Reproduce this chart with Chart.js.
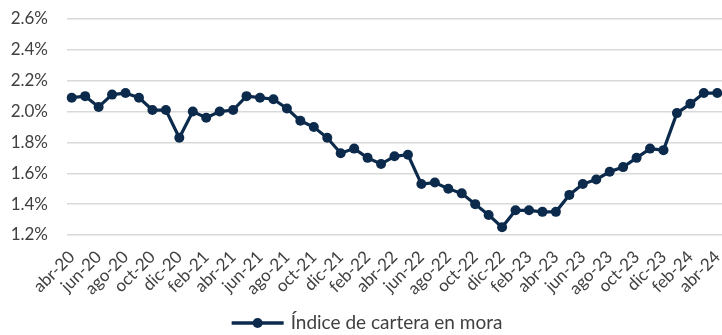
<!DOCTYPE html>
<html>
<head>
<meta charset="utf-8">
<script src="https://cdn.jsdelivr.net/npm/chart.js@4/dist/chart.umd.min.js"></script>
<style>
  html, body { margin: 0; padding: 0; background: #ffffff; }
  #wrap { width: 722px; height: 335px; }
</style>
</head>
<body>
<div id="wrap"><canvas id="c"></canvas></div>
<script>
// Meses (abril 2020 – abril 2024)
const months = [
  'abr-20','may-20','jun-20','jul-20','ago-20','sep-20','oct-20','nov-20','dic-20',
  'ene-21','feb-21','mar-21','abr-21','may-21','jun-21','jul-21','ago-21','sep-21','oct-21','nov-21','dic-21',
  'ene-22','feb-22','mar-22','abr-22','may-22','jun-22','jul-22','ago-22','sep-22','oct-22','nov-22','dic-22',
  'ene-23','feb-23','mar-23','abr-23','may-23','jun-23','jul-23','ago-23','sep-23','oct-23','nov-23','dic-23',
  'ene-24','feb-24','mar-24','abr-24'
];

// Índice de cartera en mora (%)
const imor = [
  2.09, 2.10, 2.03, 2.11, 2.12, 2.09, 2.01, 2.01, 1.83,
  2.00, 1.96, 2.00, 2.01, 2.10, 2.09, 2.08, 2.02, 1.94, 1.90, 1.83, 1.73,
  1.76, 1.70, 1.66, 1.71, 1.72, 1.53, 1.54, 1.50, 1.47, 1.40, 1.33, 1.25,
  1.36, 1.36, 1.35, 1.35, 1.46, 1.53, 1.56, 1.61, 1.64, 1.70, 1.76, 1.75,
  1.99, 2.05, 2.12, 2.12
];

// Escala del eje vertical
const yMin = 1.2;
const yMax = 2.6;
const yStep = 0.2;

const navy = '#0c2a4b';
const textGray = '#404040';
const seriesName = 'Índice de cartera en mora';

// Extiende el área de trazado hasta el borde derecho del lienzo
const fullWidth = {
  id: 'fullWidth',
  afterLayout(chart) {
    const x = chart.scales.x;
    chart.chartArea.right = chart.width;
    x.left = chart.chartArea.left - 2;
    x.right = chart.width + 2;
    x.width = x.right - x.left;
    x.configure();
  }
};

// Leyenda inferior: línea con marcador circular y nombre de la serie
const bottomLegend = {
  id: 'bottomLegend',
  afterDraw(chart) {
    const ctx = chart.ctx;
    const ds = chart.data.datasets[0];
    ctx.save();
    ctx.font = '19px Lato';
    const tw = ctx.measureText(ds.label).width;
    const lineW = 52, gap = 7;
    const total = lineW + gap + tw;
    const x0 = chart.width / 2 + 6 - total / 2;
    const y = chart.height - 12;
    ctx.strokeStyle = navy;
    ctx.lineWidth = 3.5;
    ctx.beginPath();
    ctx.moveTo(x0, y);
    ctx.lineTo(x0 + lineW, y);
    ctx.stroke();
    ctx.fillStyle = navy;
    ctx.beginPath();
    ctx.arc(x0 + lineW / 2, y, 5, 0, Math.PI * 2);
    ctx.fill();
    ctx.fillStyle = textGray;
    ctx.textBaseline = 'middle';
    ctx.textAlign = 'left';
    ctx.fillText(ds.label, x0 + lineW + gap, y);
    ctx.restore();
  }
};

new Chart(document.getElementById('c'), {
  type: 'line',
  data: {
    labels: months,
    datasets: [{
      label: seriesName,
      data: imor,
      borderColor: navy,
      backgroundColor: navy,
      borderWidth: 3.2,
      pointRadius: 5,
      pointBackgroundColor: navy,
      pointBorderColor: navy,
      pointBorderWidth: 0,
      tension: 0,
      clip: false
    }]
  },
  options: {
    responsive: true,
    maintainAspectRatio: false,
    animation: false,
    layout: { padding: { left: 0, right: 0, top: 19, bottom: 30 } },
    plugins: {
      tooltip: { enabled: false },
      legend: { display: false }
    },
    scales: {
      x: {
        offset: true,
        grid: { display: false, drawTicks: false },
        border: { display: false },
        afterFit(scale) {
          scale.paddingLeft = 0;
          scale.paddingRight = 0;
          scale.height = 70;
        },
        ticks: {
          autoSkip: false,
          maxRotation: 45,
          minRotation: 45,
          padding: 12,
          color: textGray,
          font: { family: 'Lato', size: 17 },
          callback: function (v, i) { return i % 2 === 0 ? months[i] : ''; }
        }
      },
      y: {
        min: yMin,
        max: yMax,
        grid: { color: '#d9d9d9', lineWidth: 1.5, drawTicks: false },
        border: { display: false },
        afterFit(scale) {
          scale.width = 67;
          scale.paddingTop = 0;
          scale.paddingBottom = 0;
        },
        ticks: {
          stepSize: yStep,
          padding: 19,
          color: textGray,
          font: { family: 'Lato', size: 17 },
          callback: function (v) { return v.toFixed(1) + '%'; }
        }
      }
    }
  },
  plugins: [fullWidth, bottomLegend]
});
</script>
</body>
</html>
